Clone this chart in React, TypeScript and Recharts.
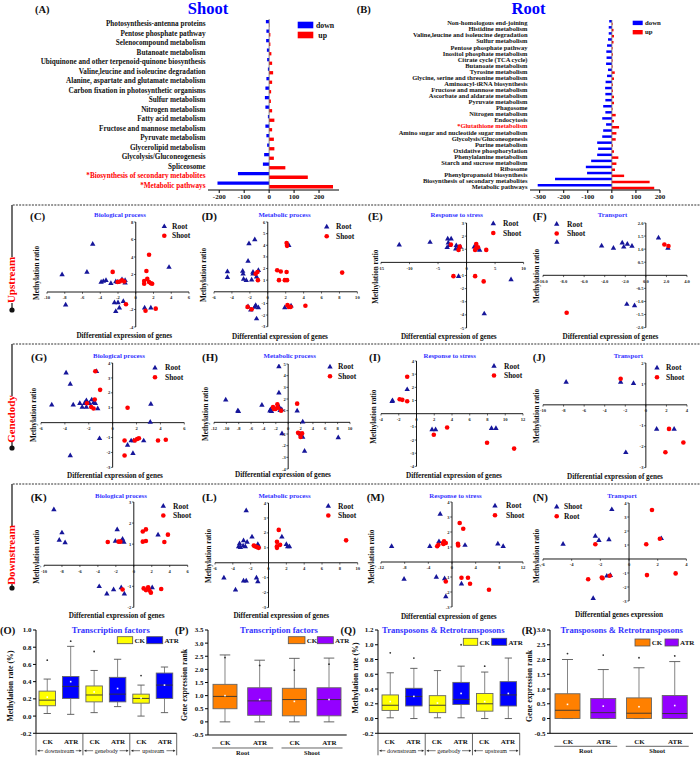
import React from 'react';
import { BarChart, Bar, XAxis, YAxis, ReferenceLine, ScatterChart, Scatter, ComposedChart } from 'recharts';

const SERIF = "'Liberation Serif','Times New Roman',serif";

// ---------------- (A) Shoot KEGG ----------------
const shootPathways = [
  'Photosynthesis-antenna proteins', 'Pentose phosphate pathway', 'Selenocompound metabolism', 'Butanoate metabolism',
  'Ubiquinone and other terpenoid-quinone biosynthesis', 'Valine,leucine and isoleucine degradation',
  'Alanine, aspartate and glutamate metabolism', 'Carbon fixation in photosynthetic organisms', 'Sulfur metabolism',
  'Nitrogen metabolism', 'Fatty acid metabolism', 'Fructose and mannose metabolism', 'Pyruvate metabolism',
  'Glycerolipid metabolism', 'Glycolysis/Gluconeogenesis', 'Spliceosome', '*Biosynthesis of secondary metabolites',
  '*Metabolic pathways',
];
const shootDown = [-13, -11, -12, -9, -8, -5, -11, -15, -17, -15, -5, -15, -11, -8, -20, -25, -125, -207];
const shootUp = [1, 5, 5, 9, 12, 16, 12, 8, 7, 12, 21, 12, 19, 21, 19, 65, 155, 256];
const shootTicks = [-200, -100, 0, 100, 200];

// ---------------- (B) Root KEGG ----------------
const rootPathways = [
  'Non-homologous end-joining', 'Histidine metabolism', 'Valine,leucine and isoleucine degradation', 'Sulfur metabolism',
  'Pentose phosphate pathway', 'Inositol phosphate metabolism', 'Citrate cycle (TCA cycle)', 'Butanoate metabolism',
  'Tyrosine metabolism', 'Glycine, serine and threonine metabolism', 'Aminoacyl-tRNA biosynthesis',
  'Fructose and mannose metabolism', 'Ascorbate and aldarate metabolism', 'Pyruvate metabolism', 'Phagosome',
  'Nitrogen metabolism', 'Endocytosis', '*Glutathione metabolism', 'Amino sugar and nucleotide sugar metabolism',
  'Glycolysis/Gluconeogenesis', 'Purine metabolism', 'Oxidative phosphorylation', 'Phenylalanine metabolism',
  'Starch and sucrose metabolism', 'Ribosome', 'Phenylpropanoid biosynthesis', 'Biosynthesis of secondary metabolites',
  'Metabolic pathways',
];
const rootDown = [-11, -13, -13, -16, -20, -23, -22, -24, -16, -20, -26, -28, -27, -27, -36, -27, -40, -24, -36, -40, -61, -57, -61, -86, -108, -103, -236, -308];
const rootUp = [3, 7, 9, 7, 3, 4, 3, 3, 12, 9, 4, 4, 9, 9, 3, 16, 9, 30, 19, 16, 4, 9, 27, 19, 13, 51, 157, 176];
const rootTicks = [-300, -200, -100, 0, 100, 200];

// ---------------- Scatter data [x = differential expression, y = methylation ratio] ----------------
const upBioRoot = [[-8.3, 2.0], [-7.9, -1.45], [-5.5, 2.3], [-4.85, 5.5], [-3.9, 1.15], [-3.65, 1.25], [-3.35, 1.35], [-2.8, 1.0], [-2.25, 1.2], [-2.05, 1.15], [-1.55, 1.45], [-1.2, 1.35], [-1.2, 1.05], [-2.4, -1.2], [-2.0, -1.2], [-1.4, -1.05], [-1.85, -1.8], [-2.25, -2.2], [1.0, -1.8], [1.7, -1.8], [3.75, 2.85]];
const upBioShoot = [[-2.6, 2.3], [-2.05, 1.15], [-1.8, 1.2], [-1.55, 1.35], [-1.3, 1.2], [-1.1, -1.4], [1.2, 2.4], [1.5, 4.25], [1.3, 1.5], [0.95, 1.25], [0.95, 0.95], [1.5, 1.15], [1.7, 1.0], [1.85, 0.95], [1.1, -2.15], [2.25, -1.9]];
const upMetRoot = [[-4.5, 1.75], [-4.5, 1.25], [-2.8, 1.8], [-2.75, 1.55], [-2.7, 1.1], [-2.4, 1.0], [-2.2, 2.65], [-2.1, 4.15], [-1.8, 1.05], [-1.65, 1.7], [-1.65, 1.55], [-1.45, 4.5], [-1.25, 1.3], [-1.05, 1.85], [-2.2, -1.25], [-1.9, -1.55], [-1.45, -1.3], [-1.35, -1.15], [-1.05, -1.35], [-1.25, -2.3], [2.35, 4.0], [1.9, -1.35], [2.6, -1.2]];
const upMetShoot = [[-2.25, -1.3], [-1.8, -1.5], [-1.35, 1.55], [-1.15, 1.7], [-1.1, 1.0], [1.05, 1.85], [1.45, 1.75], [1.25, 1.0], [2.1, 4.2], [2.15, 3.95], [1.9, 1.0], [2.15, 1.0], [2.1, 1.7], [2.2, -1.15], [2.35, -1.3], [2.55, -1.3], [4.2, -1.2], [8.3, 1.65]];
const upStressRoot = [[-11.8, 1.35], [-6.4, 1.55], [-3.3, 1.8], [-2.7, 1.8], [-3.2, 1.5], [-3.0, 1.3], [-3.4, 1.15], [-1.8, 1.3], [-1.9, 1.05], [-1.4, 1.15], [-1.1, 1.2], [1.35, 1.2], [2.0, 1.05], [2.3, 0.95], [-1.4, -1.05], [3.1, -3.9], [7.8, -1.3]];
const upStressShoot = [[-2.75, 1.35], [-2.3, -1.05], [-1.4, 0.95], [-1.2, 1.2], [1.7, 1.4], [1.7, 1.1], [1.5, 0.95], [2.0, 1.15], [3.45, 0.95], [1.5, -1.05], [3.0, -1.45]];
const upTransRoot = [[-8.65, 1.28], [-4.3, 1.13], [-3.15, 1.05], [-2.3, 1.25], [-2.15, 1.09], [-1.8, 1.2], [-1.35, 1.12], [1.23, 1.44], [2.15, 1.05], [-1.85, -1.1], [-1.1, -1.15]];
const upTransShoot = [[-7.7, -1.43], [1.8, 1.18], [2.2, 1.12]];

const geneBioRoot = [[-5.1, 1.2], [-3.9, 3.35], [-3.55, 2.6], [-3.3, 1.2], [-2.75, 1.3], [-2.55, 1.05], [-2.35, 1.3], [-2.2, 1.5], [-2.2, 1.05], [-1.95, 1.3], [-1.75, 1.55], [-1.6, 1.35], [-1.45, 1.3], [-1.35, 3.45], [-1.25, 0.95], [-1.1, -1.05], [-3.55, -2.2], [1.25, -1.5], [1.55, -1.2], [1.75, -1.2], [1.7, -2.05], [2.6, -1.2], [3.2, 1.25], [3.15, 0.05]];
const geneBioShoot = [[-2.15, 1.3], [-1.8, 1.05], [-1.6, 0.95], [-1.5, 1.55], [-1.45, 3.45], [-1.05, 2.2], [1.25, 1.0], [1.0, -1.2], [1.0, -2.2], [1.85, -1.2], [2.05, -1.1], [2.2, -1.05], [3.8, -1.2], [4.45, -1.15]];
const geneMetRoot = [[-10.1, 1.95], [-8.15, 1.0], [-8.05, 0.95], [-4.25, 1.5], [-2.95, 1.0], [-2.85, 1.1], [-2.7, 0.95], [-1.65, 1.45], [-1.5, 4.8], [-1.5, 2.55], [-1.4, 1.25], [-1.3, 1.05], [-1.05, 1.1], [-1.0, -0.95], [1.45, 1.0], [2.35, 0.05], [2.0, -1.0], [2.35, -1.25], [2.65, -2.45], [8.1, -1.3]];
const geneMetShoot = [[-2.45, 1.3], [-2.3, 1.15], [-2.05, 1.15], [-1.75, 1.55], [-1.65, 1.25], [-1.15, 1.0], [1.45, 1.6], [1.6, -0.9], [2.0, -1.25], [2.25, -0.95]];
const geneStressRoot = [[-2.7, 1.0], [-2.75, 0.95], [-1.05, 1.85], [1.75, -1.2], [2.15, -1.2], [8.45, -1.1], [8.95, -1.1]];
const geneStressShoot = [[-1.9, 1.1], [-1.6, 1.05], [-1.05, 2.8], [-1.05, 0.95], [1.95, -1.6], [3.45, -1.05], [7.95, -2.2], [11.0, -2.65]];
const geneTransRoot = [[-7.75, 1.1], [-2.45, 1.1], [-1.2, 1.04], [-1.95, -2.27], [1.05, -1.15], [2.75, -1.15]];
const geneTransShoot = [[-2.45, 1.25], [2.25, -1.15], [1.9, -2.27], [3.65, -1.8]];

const downBioRoot = [[-8.9, 2.65], [-8.0, 1.55], [-8.3, 1.2], [-7.65, 1.08], [-1.85, 1.7], [-2.05, 1.15], [-1.4, 1.15], [-1.25, 1.25], [-1.1, 1.1], [-3.85, -1.0], [-3.0, -1.35], [-2.25, -1.15], [-1.4, -1.05], [-1.05, -1.35], [2.7, 1.45], [2.05, -1.05]];
const downBioShoot = [[-2.9, 1.1], [-1.7, 1.12], [-1.5, 1.12], [-1.25, -1.15], [1.0, 1.6], [1.35, 1.7], [1.0, 1.12], [1.35, 1.15], [3.4, 1.1], [3.8, 1.45], [1.1, -1.1], [1.35, -1.18], [1.6, -1.05], [1.75, -1.2], [1.9, -1.3], [3.05, -1.13]];
const downMetRoot = [[-5.0, -1.0], [-3.7, -1.8], [-3.35, 1.1], [-3.25, 1.3], [-3.15, 1.05], [-2.85, 1.15], [-2.8, 1.5], [-2.6, 1.1], [-2.4, 1.4], [-2.5, 3.5], [-2.8, -1.2], [-2.5, -1.2], [-1.85, 1.75], [-1.35, -1.0], [-1.2, -1.25], [-1.2, 1.25], [-1.1, 1.1], [1.5, 1.75], [2.0, 1.25], [2.15, 1.1], [2.35, 1.1]];
const downMetShoot = [[-1.65, 1.15], [-1.5, 1.1], [-1.3, 1.05], [-1.1, 1.0], [0.95, 1.4], [0.95, 1.1], [0.95, 1.0], [1.15, 2.2], [1.3, 1.2], [8.7, 1.5]];
const downStressRoot = [[-10.2, 1.05], [-8.1, -1.13], [-3.75, 1.05], [-2.2, 1.38], [-2.0, 3.2], [-2.65, -1.0], [-1.25, -1.1], [-1.05, -2.3], [2.2, 1.13], [1.6, -1.45], [7.75, 1.22], [8.65, 1.05]];
const downStressShoot = [[-2.5, 1.05], [-2.3, 1.15], [-1.5, 1.27], [-1.35, 1.38], [-1.05, 1.27], [-1.45, 1.2], [-1.05, -1.3], [1.0, 1.22], [1.05, 1.1], [1.3, 2.6], [1.9, 2.22], [1.6, -1.05], [2.7, -1.05], [3.05, -1.45], [6.25, -1.85]];
const downTransShoot = [[-4.6, 1.07], [-2.35, 1.65], [-2.1, 1.35], [-1.4, 1.4], [-1.2, 3.55], [-1.55, -1.2], [-1.3, -1.15], [-2.5, -2.8], [2.25, 1.48]];
const downTransRoot = [[-2.35, 1.05], [-2.85, -1.45], [-1.9, -1.33], [-1.85, -1.38], [-1.35, -1.2], [1.2, 1.05], [1.25, -1.15], [1.6, 3.5], [2.15, 1.45], [3.25, -1.03]];

// tick labels
const ticksM10to6 = [-10, -8, -6, -4, -2, 0, 2, 4, 6];
const ticksM6to10 = [-6, -4, -2, 0, 2, 4, 6, 8, 10];
const ticksM15to10 = [-15, -10, -5, 0, 5, 10];
const ticksM10to4 = [-10, -8, -6, -4, -2, 0, 2, 4];
const ticksM6to6 = [-6, -4, -2, 0, 2, 4, 6];
const ticksM12to10 = [-12, -10, -8, -6, -4, -2, 0, 2, 4, 6, 8, 10];
const ticksM4to12 = [-4, -2, 0, 2, 4, 6, 8, 10, 12];
const ticksM12to12 = [-12, -8, -4, 0, 4, 8, 12];
const ticksM6to4 = [-6, -4, -2, 0, 2, 4];
const yM4to8 = [-4, -2, 0, 2, 4, 6, 8];
const yM3to6 = [-3, -2, -1, 0, 1, 2, 3, 4, 5, 6];
const yM5to3 = [-5, -4, -3, -2, -1, 0, 1, 2, 3];
const yM2to2 = [-2, -1.5, -1, -0.5, 0, 0.5, 1, 1.5, 2];
const yM3to4 = [-3, -2, -1, 0, 1, 2, 3, 4];
const yM4to5 = [-4, -3, -2, -1, 0, 1, 2, 3, 4, 5];
const yM4to4 = [-4, -3, -2, -1, 0, 1, 2, 3, 4];
const yM3to2 = [-3, -2, -1, 0, 1, 2];
const yM2to3 = [-2, -1, 0, 1, 2, 3];

// ---------------- Box plot data ----------------
const methCats = ['CK', 'ATR', 'CK', 'ATR', 'CK', 'ATR'];
const methGroups = ['downstream', 'genebody', 'upstream'];
const exprCats = ['CK', 'ATR', 'CK', 'ATR'];
const exprGroups = ['Root', 'Shoot'];

const tfMethLo = [0.03, 0.02, 0.04, 0.11, 0.0, 0.04];
const tfMethQ1 = [0.12, 0.205, 0.165, 0.165, 0.15, 0.205];
const tfMethMed = [0.185, 0.345, 0.245, 0.255, 0.205, 0.36];
const tfMethQ3 = [0.29, 0.46, 0.35, 0.45, 0.255, 0.5];
const tfMethHi = [0.43, 0.81, 0.53, 0.66, 0.36, 0.57];
const tfMethMean = [0.22, 0.4, 0.28, 0.32, 0.21, 0.36];
const tfMethOut = [0.65, 0.87, 0.75, null, 0.47, null];

const tfExprLo = [0, 0, 0, 0];
const tfExprQ1 = [0.5, 0.25, 0.23, 0.23];
const tfExprMed = [0.97, 0.8, 0.85, 0.85];
const tfExprQ3 = [1.43, 1.3, 1.28, 1.3];
const tfExprHi = [2.55, 2.35, 2.42, 2.43];
const tfExprMean = [1.0, 0.85, 0.78, 0.85];
const tfExprOut = [2.45, 2.15, 1.97, 2.2];

const teMethLo = [0.01, 0.0, 0.01, 0.01, 0.0, 0.0];
const teMethQ1 = [0.11, 0.17, 0.08, 0.19, 0.1, 0.17];
const teMethMed = [0.18, 0.3, 0.18, 0.26, 0.2, 0.32];
const teMethQ3 = [0.32, 0.41, 0.31, 0.49, 0.34, 0.5];
const teMethHi = [0.62, 0.68, 0.65, 0.71, 0.63, 0.82];
const teMethMean = [0.23, 0.3, 0.21, 0.34, 0.23, 0.34];
const teMethOut = [0.89, 0.82, null, 1.0, 0.71, null];

const teExprLo = [0, 0, 0, 0];
const teExprQ1 = [0, 0, 0, 0];
const teExprMed = [0.28, 0.2, 0.18, 0.17];
const teExprQ3 = [0.84, 0.68, 0.7, 0.78];
const teExprHi = [2.0, 1.66, 1.72, 1.93];
const teExprMean = [0.48, 0.42, 0.4, 0.44];
const teExprOut = [2.2, 2.15, 2.06, 2.12];

const methTicksTF = [-0.2, 0, 0.2, 0.4, 0.6, 0.8, 1.0];
const methTicksTE = [-0.2, 0, 0.2, 0.4, 0.6, 0.8, 1.0, 1.2];
const exprTicksTF = [-0.5, 0, 0.5, 1.0, 1.5, 2.0, 2.5, 3.0, 3.5];
const exprTicksTE = [-0.5, 0, 0.5, 1.0, 1.5, 2.0, 2.5, 3.0];

// ---------------- styles ----------------
const BLUE_T = '#3333ff';
const TRI_C = '#16169a';
const DOT_C = '#ff0000';
const methColors = ['#ffff00', '#0000ff'];
const exprColors = ['#ff8000', '#9400ff'];

const toPts = (a: number[][]) => a.map(([x, y]) => ({ x, y }));

// ---------------- KEGG bar chart ----------------
const pathTick = (fs: number) => (p: any) => {
  const v: string = String(p.payload.value);
  const hl = v.startsWith('*');
  return (
    <text x={p.x} y={p.y + fs * 0.34} textAnchor="end" fontSize={fs} fontFamily={SERIF} fontWeight="bold" fill={hl ? '#ff0000' : '#111'}>
      {v}
    </text>
  );
};

function KeggChart(props: any) {
  const { names, down, up, left, width, yw, mr, mt, domain, ticks, fs, bs } = props;
  const data = names.map((n: string, i: number) => ({ name: n, down: down[i], up: up[i] }));
  return (
    <div style={{ position: 'absolute', left, top: 0 }}>
      <BarChart width={width} height={205} data={data} layout="vertical" margin={{ top: mt, right: mr, bottom: 0, left: 0 }} barGap={0.3}>
        <XAxis type="number" domain={domain} ticks={ticks} interval={0} height={15} tickSize={3} tickMargin={1.5} stroke="#000" allowDataOverflow
          tick={{ fontSize: 7, fontFamily: SERIF, fontWeight: 'bold', fill: '#111' }} />
        <YAxis type="category" dataKey="name" width={yw} interval={0} tickSize={0} tickMargin={2.5} axisLine={false} tickLine={false} tick={pathTick(fs)} />
        <ReferenceLine x={0} stroke="#666" strokeWidth={0.8} />
        <Bar dataKey="down" fill="#0000ff" barSize={bs} isAnimationActive={false} />
        <Bar dataKey="up" fill="#ff0000" barSize={bs} isAnimationActive={false} />
      </BarChart>
    </div>
  );
}

// ---------------- scatter panels ----------------
const Tri = (p: any) => (
  <path d={`M${p.cx},${p.cy - 2.9}L${p.cx + 2.7},${p.cy + 1.8}L${p.cx - 2.7},${p.cy + 1.8}Z`} fill={TRI_C} />
);
const Circ = (p: any) => <circle cx={p.cx} cy={p.cy} r={2.3} fill={DOT_C} />;

const panels: any[] = [
  { id: '(C)', l: 47, r: 189, t: 221.7, b: 326.7, xd: [-10, 6], xt: ticksM10to6, yd: [-4, 8], yt: yM4to8, tri: upBioRoot, circ: upBioShoot,
    title: 'Biological process', tx: 120, row: 0, lx: 30, leg: [164.3, 226.3, 172], yl: [36.7, 273], xl: [124.3, 337.5] },
  { id: '(D)', l: 214.3, r: 357.7, t: 222, b: 326.7, xd: [-6, 10], xt: ticksM6to10, yd: [-3, 6], yt: yM3to6, tri: upMetRoot, circ: upMetShoot,
    title: 'Metabolic process', tx: 284.5, row: 0, lx: 201.7, leg: [326.7, 226.7, 336], yl: [203.3, 275], xl: [280, 339] },
  { id: '(E)', l: 380.7, r: 523.3, t: 223.3, b: 328.3, xd: [-15, 10], xt: ticksM15to10, yd: [-5, 3], yt: yM5to3, tri: upStressRoot, circ: upStressShoot,
    title: 'Response to stress', tx: 456.8, row: 0, lx: 368, leg: [493.3, 223.5, 503], yl: [375, 276.7], xl: [448.8, 338.5] },
  { id: '(F)', l: 542.7, r: 686.7, t: 222.7, b: 327.3, xd: [-10, 4], xt: ticksM10to4, yd: [-2, 2], yt: yM2to2, dec: true, tri: upTransRoot, circ: upTransShoot,
    title: 'Transport', tx: 612.5, row: 0, lx: 532.7, leg: [556.7, 224, 567], yl: [536.7, 276], xl: [610.5, 338.5] },
  { id: '(G)', l: 41, r: 184.3, t: 363.3, b: 467.7, xd: [-6, 6], xt: ticksM6to6, yd: [-3, 4], yt: yM3to4, tri: geneBioRoot, circ: geneBioShoot,
    title: 'Biological process', tx: 119, row: 1, lx: 31, leg: [155, 367.7, 165], yl: [33.3, 415], xl: [115, 477.5] },
  { id: '(H)', l: 214, r: 350, t: 364, b: 469, xd: [-12, 10], xt: ticksM12to10, yd: [-4, 5], yt: yM4to5, tri: geneMetRoot, circ: geneMetShoot,
    title: 'Metabolic process', tx: 289.7, row: 1, lx: 202, leg: [330, 366.7, 338], yl: [205, 414], xl: [283, 476.8] },
  { id: '(I)', l: 380.7, r: 522.7, t: 361.3, b: 466.7, xd: [-4, 12], xt: ticksM4to12, yd: [-4, 4], yt: yM4to4, tri: geneStressRoot, circ: geneStressShoot,
    title: 'Response to stress', tx: 449.7, row: 1, lx: 369, leg: [494, 366, 504], yl: [373.3, 416.7], xl: [454, 477.5] },
  { id: '(J)', l: 542.7, r: 686.7, t: 362.7, b: 467.3, xd: [-10, 4], xt: ticksM10to4, yd: [-3, 2], yt: yM3to2, tri: geneTransRoot, circ: geneTransShoot,
    title: 'Transport', tx: 628.3, row: 1, lx: 532.7, leg: [657, 367.7, 666], yl: [536.7, 416], xl: [615, 478.5] },
  { id: '(K)', l: 44, r: 187.7, t: 502.3, b: 607.7, xd: [-10, 6], xt: ticksM10to6, yd: [-2, 3], yt: yM2to3, tri: downBioRoot, circ: downBioShoot,
    title: 'Biological process', tx: 121, row: 2, lx: 30.7, leg: [163.3, 506, 173], yl: [36.7, 556.7], xl: [116.7, 617.5] },
  { id: '(L)', l: 215, r: 357.7, t: 502.7, b: 607.3, xd: [-6, 10], xt: ticksM6to10, yd: [-3, 4], yt: yM3to4, tri: downMetRoot, circ: downMetShoot,
    title: 'Metabolic process', tx: 284.5, row: 2, lx: 202, leg: [328.3, 506, 338], yl: [208.3, 556], xl: [281.3, 617.5] },
  { id: '(M)', l: 380.7, r: 522.7, t: 502.3, b: 607.3, xd: [-12, 12], xt: ticksM12to12, yd: [-3, 4], yt: yM3to4, tri: downStressRoot, circ: downStressShoot,
    title: 'Response to stress', tx: 455.5, row: 2, lx: 366.7, leg: [495, 505.7, 506], yl: [371.7, 556.7], xl: [448.8, 618.5] },
  { id: '(N)', l: 543.3, r: 686.7, t: 502.7, b: 600.7, xd: [-6, 4], xt: ticksM6to4, yd: [-3, 4], yt: yM3to4, tri: downTransShoot, circ: downTransRoot,
    title: 'Transport', tx: 622, row: 2, lx: 532.7, leg: [556.7, 506.7, 564], yl: [536.7, 556], xl: [619, 616.8],
    names: ['Shoot', 'Root'], xlabel: 'Differential genes expression' },
];

function ScatterPanel({ g }: { g: any }) {
  const PAD = 14;
  const AX = 1;
  const w = g.r - g.l;
  const h = g.b - g.t;
  const [xmin, xmax] = g.xd;
  const [ymin, ymax] = g.yd;
  const x0 = PAD + ((0 - xmin) / (xmax - xmin)) * w;
  const y0 = PAD + ((ymax - 0) / (ymax - ymin)) * h;
  const fmt = (v: number) => (g.dec ? v.toFixed(1) : String(v));
  const xTick = (p: any) => (
    <g>
      <line x1={p.x} x2={p.x} y1={y0} y2={y0 + 1.8} stroke="#000" strokeWidth={0.6} />
      <text x={p.x} y={y0 + 7.4} textAnchor="middle" fontSize={4.6} fontFamily={SERIF} fontWeight="bold" fill="#222">{fmt(p.payload.value)}</text>
    </g>
  );
  const yTick = (p: any) =>
    p.payload.value === 0 ? <g /> : (
      <g>
        <line x1={x0 - 1.8} x2={x0} y1={p.y} y2={p.y} stroke="#000" strokeWidth={0.6} />
        <text x={x0 - 2.4} y={p.y + 1.6} textAnchor="end" fontSize={4.6} fontFamily={SERIF} fontWeight="bold" fill="#222">{fmt(p.payload.value)}</text>
      </g>
    );
  return (
    <div style={{ position: 'absolute', left: g.l - PAD, top: g.t - PAD }}>
      <ScatterChart width={w + 2 * PAD} height={h + 2 * PAD} margin={{ top: PAD, right: PAD, bottom: PAD - AX, left: PAD - AX }}>
        <XAxis type="number" dataKey="x" domain={g.xd} ticks={g.xt} interval={0} height={AX} axisLine={false} tickLine={false} tick={xTick} allowDataOverflow />
        <YAxis type="number" dataKey="y" domain={g.yd} ticks={g.yt} interval={0} width={AX} axisLine={false} tickLine={false} tick={yTick} allowDataOverflow />
        <ReferenceLine x={0} stroke="#000" strokeWidth={0.9} />
        <ReferenceLine y={0} stroke="#000" strokeWidth={0.9} />
        <Scatter data={toPts(g.tri)} shape={Tri} isAnimationActive={false} />
        <Scatter data={toPts(g.circ)} shape={Circ} isAnimationActive={false} />
      </ScatterChart>
    </div>
  );
}

// ---------------- box panels ----------------
const boxes: any[] = [
  { l: 36, r: 176.7, t: 630, b: 733.3, yd: [-0.2, 1.0], yt: methTicksTF, zero: false, cats: methCats, groups: methGroups, style: 'arrow', bw: 16.5, colors: methColors,
    lo: tfMethLo, q1: tfMethQ1, med: tfMethMed, q3: tfMethQ3, hi: tfMethHi, mean: tfMethMean, out: tfMethOut },
  { l: 208.3, r: 347, t: 630, b: 735, yd: [-0.5, 3.5], yt: exprTicksTF, zero: true, cats: exprCats, groups: exprGroups, style: 'bracket', bw: 24, colors: exprColors,
    lo: tfExprLo, q1: tfExprQ1, med: tfExprMed, q3: tfExprQ3, hi: tfExprHi, mean: tfExprMean, out: tfExprOut },
  { l: 378.3, r: 520, t: 630, b: 733.3, yd: [-0.2, 1.2], yt: methTicksTE, zero: false, cats: methCats, groups: methGroups, style: 'arrow', bw: 16.5, colors: methColors,
    lo: teMethLo, q1: teMethQ1, med: teMethMed, q3: teMethQ3, hi: teMethHi, mean: teMethMean, out: teMethOut },
  { l: 550, r: 693, t: 630, b: 733.3, yd: [-0.5, 3.0], yt: exprTicksTE, zero: true, cats: exprCats, groups: exprGroups, style: 'bracket', bw: 25, colors: exprColors,
    lo: teExprLo, q1: teExprQ1, med: teExprMed, q3: teExprQ3, hi: teExprHi, mean: teExprMean, out: teExprOut },
];

const boxShape = (colors: string[]) => (p: any) => {
  const { x, y, width, height, payload, index } = p;
  if (payload == null) return <g />;
  const top = Math.min(y, y + height);
  const hpx = Math.abs(height);
  const k = hpx / (payload.hi - payload.lo);
  const Y = (v: number) => top + (payload.hi - v) * k;
  const cx = x + width / 2;
  const cap = width * 0.22;
  return (
    <g>
      <line x1={cx} x2={cx} y1={Y(payload.hi)} y2={Y(payload.q3)} stroke="#777" strokeWidth={0.9} />
      <line x1={cx} x2={cx} y1={Y(payload.q1)} y2={Y(payload.lo)} stroke="#777" strokeWidth={0.9} />
      <line x1={cx - cap} x2={cx + cap} y1={Y(payload.hi)} y2={Y(payload.hi)} stroke="#555" strokeWidth={0.9} />
      <line x1={cx - cap} x2={cx + cap} y1={Y(payload.lo)} y2={Y(payload.lo)} stroke="#555" strokeWidth={0.9} />
      <rect x={x} y={Y(payload.q3)} width={width} height={Math.max(0.5, Y(payload.q1) - Y(payload.q3))} fill={colors[index % 2]} stroke="#666" strokeWidth={0.9} />
      <line x1={x} x2={x + width} y1={Y(payload.med)} y2={Y(payload.med)} stroke="#333" strokeWidth={0.9} />
      <rect x={cx - 0.8} y={Y(payload.mean) - 0.8} width={1.6} height={1.6} fill="#fff" />
      {payload.out != null && <circle cx={cx} cy={Y(payload.out)} r={0.9} fill="#333" />}
    </g>
  );
};

function BoxPanel({ c }: { c: any }) {
  const YW = 28;
  const MT = 6;
  const XH = 24;
  const w = c.r - c.l;
  const h = c.b - c.t;
  const band = w / c.cats.length;
  const bottom = MT + h;
  const data = c.cats.map((_: string, i: number) => ({
    i, lo: c.lo[i], q1: c.q1[i], med: c.med[i], q3: c.q3[i], hi: c.hi[i], mean: c.mean[i], out: c.out[i],
  }));
  const fmt = (v: number) => (c.zero && v === 0 ? '0' : v.toFixed(1));
  const txt = { fontFamily: SERIF, fontWeight: 'bold' as const, fill: '#111' };
  const xTick = (p: any) => {
    const i = Number(p.payload.value);
    const x = p.x;
    const els: any[] = [
      <text key="c" x={x} y={bottom + 10.5} textAnchor="middle" fontSize={7} {...txt}>{c.cats[i]}</text>,
    ];
    if (c.style === 'arrow') {
      if (i % 2 === 0) els.push(<line key="s" x1={x - band / 2} x2={x - band / 2} y1={bottom} y2={bottom + 22} stroke="#222" strokeWidth={0.7} />);
      if (i === c.cats.length - 1) els.push(<line key="e" x1={x + band / 2} x2={x + band / 2} y1={bottom} y2={bottom + 22} stroke="#222" strokeWidth={0.7} />);
      if (i % 2 === 1) {
        const gx = x - band / 2;
        const label = c.groups[(i - 1) / 2];
        const tw = label.length * 3.05 + 2;
        const gy = bottom + 17.4;
        const a = gx - band + 1.5;
        const b2 = gx + band - 1.5;
        els.push(
          <g key="g">
            <line x1={a} x2={gx - tw / 2} y1={gy} y2={gy} stroke="#222" strokeWidth={0.6} />
            <line x1={gx + tw / 2} x2={b2} y1={gy} y2={gy} stroke="#222" strokeWidth={0.6} />
            <path d={`M${a},${gy}l2,-1.2v2.4Z`} fill="#222" />
            <path d={`M${b2},${gy}l-2,-1.2v2.4Z`} fill="#222" />
            <text x={gx} y={gy + 2} textAnchor="middle" fontSize={6} fontFamily={SERIF} fill="#111">{label}</text>
          </g>
        );
      }
    } else if (i % 2 === 1) {
      const gx = x - band / 2;
      els.push(
        <g key="g">
          <line x1={gx - band * 0.88} x2={gx + band * 0.88} y1={bottom + 13} y2={bottom + 13} stroke="#222" strokeWidth={0.7} />
          <text x={gx} y={bottom + 20} textAnchor="middle" fontSize={6.5} {...txt}>{c.groups[(i - 1) / 2]}</text>
        </g>
      );
    }
    return <g>{els}</g>;
  };
  return (
    <div style={{ position: 'absolute', left: c.l - YW, top: c.t - MT }}>
      <ComposedChart width={YW + w + 4} height={MT + h + XH} data={data} margin={{ top: MT, right: 4, bottom: 0, left: 0 }}>
        <XAxis dataKey="i" height={XH} interval={0} tickLine={false} stroke="#000" tick={xTick} />
        <YAxis type="number" domain={c.yd} ticks={c.yt} interval={0} width={YW} tickSize={3} tickMargin={1.5} stroke="#000" tickFormatter={fmt} allowDataOverflow
          tick={{ fontSize: 7, fontFamily: SERIF, fontWeight: 'bold', fill: '#111' }} />
        <Bar dataKey={(d: any) => [d.lo, d.hi]} barSize={c.bw} shape={boxShape(c.colors)} isAnimationActive={false} />
      </ComposedChart>
    </div>
  );
}

// ---------------- overlay text ----------------
const T = (p: any) => (
  <text x={p.x} y={p.y} fontSize={p.fs || 7.2} fill={p.fill || '#111'} textAnchor={p.anchor || 'middle'} fontFamily={SERIF} fontWeight={p.w || 'bold'}>
    {p.children}
  </text>
);
const VT = (p: any) => (
  <g transform={`translate(${p.x},${p.y}) rotate(-90)`}>
    <text x={0} y={(p.fs || 7.2) * 0.35} fontSize={p.fs || 7.2} fill={p.fill || '#111'} textAnchor="middle" fontFamily={SERIF} fontWeight="bold">
      {p.children}
    </text>
  </g>
);

const sideLabels = [
  { text: 'Upstream', top: 205, ts: 257, te: 303, dot: 310, cy: 280 },
  { text: 'Genedody', top: 344, ts: 396, te: 442, dot: 448, cy: 419 },
  { text: 'Downstream', top: 484, ts: 526, te: 584, dot: 588, cy: 555 },
];
const dashY = [205, 344, 484];
const rowTitleY = [217.4, 358.4, 498.2];
const rowLetterY = [219.8, 360.8, 500.8];

const boxTexts = [
  { letter: '(O)', lx: 0, title: 'Transcription factors', tx: 110.8, ylab: 'Methylation rate (%)', yl: [10, 686], leg: [117.3, 636.7, 15.4, 146.7, 16], colors: methColors },
  { letter: '(P)', lx: 175, title: 'Transcription factors', tx: 279, ylab: 'Gene expression rank', yl: [184, 685], leg: [288.3, 636.7, 16.7, 317.3, 16], colors: exprColors },
  { letter: '(Q)', lx: 340.5, title: 'Transposons & Retrotransposons', tx: 443.3, ylab: 'Methylation rate (%)', yl: [355.5, 678], leg: [463.3, 638.3, 14.4, 491.7, 15], colors: methColors },
  { letter: '(R)', lx: 521.7, title: 'Transposons & Retrotransposons', tx: 621.7, ylab: 'Gene expression rank', yl: [529.7, 686], leg: [635, 639, 15, 665, 13.3], colors: exprColors },
];

function Overlay() {
  return (
    <svg width={700} height={757} style={{ position: 'absolute', left: 0, top: 0, pointerEvents: 'none' }}>
      {/* top titles */}
      <T x={35} y={12.8} fs={10.5} anchor="start">(A)</T>
      <T x={208} y={13.5} fs={16.5} fill="#0000ff">Shoot</T>
      <T x={356.7} y={12.8} fs={10.5} anchor="start">(B)</T>
      <T x={528.5} y={13.5} fs={16.5} fill="#0000ff">Root</T>
      {/* legends A & B */}
      <rect x={297.7} y={21.7} width={15.6} height={6.6} fill="#0000ff" />
      <T x={316} y={27.6} fs={7.8} anchor="start">down</T>
      <rect x={297.7} y={31.7} width={15.6} height={6.6} fill="#ff0000" />
      <T x={318.3} y={37.6} fs={7.8} anchor="start">up</T>
      <rect x={632.7} y={20.7} width={10} height={4.4} fill="#0000ff" />
      <T x={645} y={25} fs={6.8} anchor="start">down</T>
      <rect x={632.7} y={30} width={10} height={4.4} fill="#ff0000" />
      <T x={645} y={34.4} fs={6.8} anchor="start">up</T>

      {/* dashed separators */}
      {dashY.map((y) => (
        <line key={y} x1={12.7} x2={700} y1={y} y2={y} stroke="#333" strokeWidth={1.2} strokeDasharray="2 1.2" />
      ))}
      {/* side labels */}
      {sideLabels.map((s) => (
        <g key={s.text}>
          <line x1={12} x2={12} y1={s.top} y2={s.ts} stroke="#111" strokeWidth={1.2} />
          <line x1={12} x2={12} y1={s.te} y2={s.dot} stroke="#111" strokeWidth={1.2} />
          <circle cx={12} cy={s.dot} r={2.6} fill="#111" />
          <VT x={11.3} y={s.cy} fs={11} fill="#ff0000">{s.text}</VT>
        </g>
      ))}

      {/* scatter panel annotations */}
      {panels.map((g) => {
        const names = g.names || ['Root', 'Shoot'];
        const [sx, sy, tx] = g.leg;
        return (
          <g key={g.id}>
            <T x={g.lx} y={rowLetterY[g.row]} fs={11} anchor="start">{g.id}</T>
            <T x={g.tx} y={rowTitleY[g.row]} fs={6.8} fill={BLUE_T}>{g.title}</T>
            <Tri cx={sx} cy={sy} />
            <T x={tx} y={sy + 2.6} fs={7.5} anchor="start">{names[0]}</T>
            <Circ cx={sx} cy={sy + 9.5} />
            <T x={tx} y={sy + 12.1} fs={7.5} anchor="start">{names[1]}</T>
            <VT x={g.yl[0]} y={g.yl[1]} fs={7.2}>Methylation ratio</VT>
            <T x={g.xl[0]} y={g.xl[1]} fs={7.2}>{g.xlabel || 'Differential expression of genes'}</T>
          </g>
        );
      })}

      {/* box panel annotations */}
      {boxTexts.map((b) => (
        <g key={b.letter}>
          <T x={b.lx} y={634} fs={10.5} anchor="start">{b.letter}</T>
          <T x={b.tx} y={633.2} fs={8.6} fill={BLUE_T}>{b.title}</T>
          <VT x={b.yl[0]} y={b.yl[1]} fs={7.8}>{b.ylab}</VT>
          <rect x={b.leg[0]} y={b.leg[1]} width={b.leg[2]} height={7} fill={b.colors[0]} stroke="#555" strokeWidth={0.8} />
          <T x={b.leg[0] + b.leg[2] + 1.8} y={b.leg[1] + 6.2} fs={7} anchor="start">CK</T>
          <rect x={b.leg[3]} y={b.leg[1]} width={b.leg[4]} height={7} fill={b.colors[1]} stroke="#555" strokeWidth={0.8} />
          <T x={b.leg[3] + b.leg[4] + 1.8} y={b.leg[1] + 6.2} fs={7} anchor="start">ATR</T>
        </g>
      ))}
    </svg>
  );
}

export default function App() {
  return (
    <div style={{ position: 'absolute', left: 0, top: 0, width: 700, height: 757, overflow: 'hidden', background: '#fff' }}>
      <KeggChart names={shootPathways} down={shootDown} up={shootUp} left={0} width={345} yw={208} mr={6} mt={19}
        domain={[-245, 280]} ticks={shootTicks} fs={7.2} bs={3.3} />
      <KeggChart names={rootPathways} down={rootDown} up={rootUp} left={350} width={350} yw={180} mr={40} mt={20}
        domain={[-340, 200]} ticks={rootTicks} fs={6.5} bs={2.5} />
      {panels.map((g) => (
        <ScatterPanel key={g.id} g={g} />
      ))}
      {boxes.map((c, i) => (
        <BoxPanel key={i} c={c} />
      ))}
      <Overlay />
    </div>
  );
}
